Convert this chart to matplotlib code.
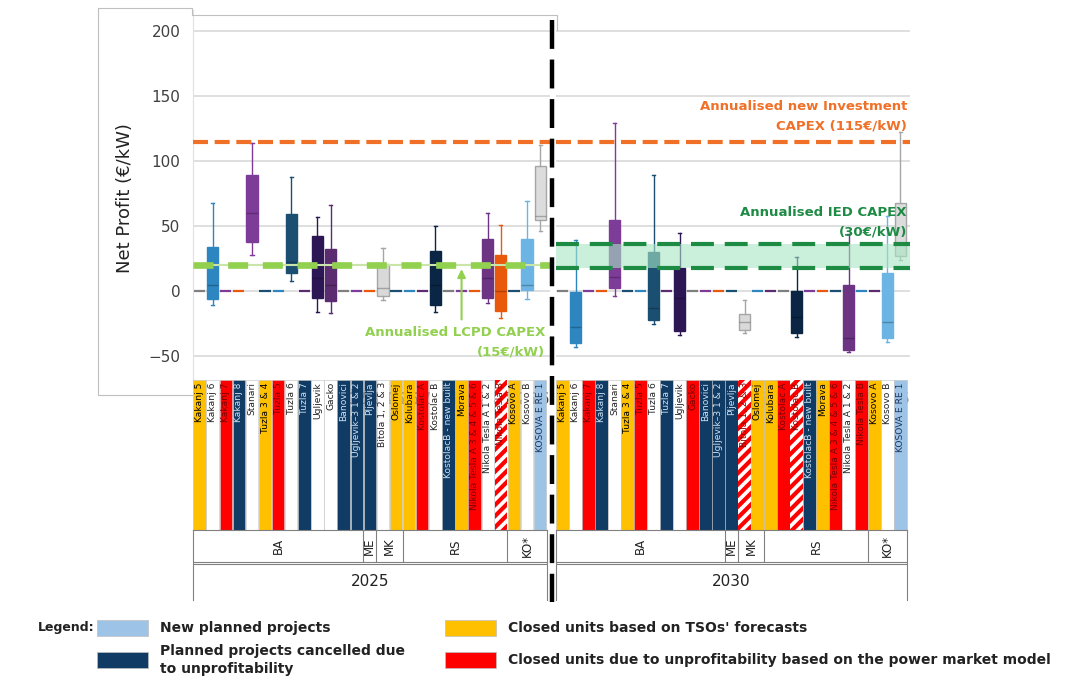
import numpy as np
import matplotlib.pyplot as plt
from matplotlib.patches import Rectangle

plt.rcParams['hatch.linewidth'] = 3.0

# ---- data -------------------------------------------------------------
plants = ['Kakanj 5', 'Kakanj 6', 'Kakanj 7', 'Kakanj 8', 'Stanari', 'Tuzla 3 & 4',
          'Tuzla 5', 'Tuzla 6', 'Tuzla 7', 'Ugljevik', 'Gacko', 'Banovici',
          'Ugljevik\u20133 1 & 2', 'Pljevlja', 'Bitola 1, 2 & 3', 'Oslomej', 'Kolubara',
          'Kostolac A', 'Kostolac B', 'KostolacB - new built', 'Morava',
          'Nikola Tesla A 3 & 4 & 5 & 6', 'Nikola Tesla A 1 & 2', 'Nikola Tesla B',
          'Kosovo A', 'Kosovo B', 'KOSOVA E RE 1']

status_2025 = ['tso', 'none', 'model', 'cancel', 'none', 'tso', 'model', 'none', 'cancel',
               'none', 'none', 'cancel', 'cancel', 'cancel', 'none', 'tso', 'tso', 'model',
               'none', 'cancel', 'tso', 'model', 'none', 'hatch', 'tso', 'none', 'new']
status_2030 = ['tso', 'none', 'model', 'cancel', 'none', 'tso', 'model', 'none', 'cancel',
               'none', 'model', 'cancel', 'cancel', 'cancel', 'hatch', 'tso', 'tso', 'model',
               'hatch', 'cancel', 'tso', 'model', 'none', 'model', 'tso', 'none', 'new']

countries = ['BA', 'ME', 'MK', 'RS', 'KO*']
country_sizes = [13, 1, 2, 8, 3]
years = ['2025', '2030']

# box plots (net profit, EUR/kW)
pos_2025 = [1, 4, 7, 9, 10, 14, 18, 22, 23, 25, 26]
hi_2025 = [68, 114, 88, 57, 66, 33, 50, 60, 51, 69, 112]
q3_2025 = [34, 89, 59, 42, 32, 21, 31, 40, 28, 40, 96]
med_2025 = [5, 60, 22, 10, 5, 2, 5, 10, 0, 5, 58]
q1_2025 = [-6, 38, 14, -5, -8, -4, -11, -5, -15, 1, 55]
lo_2025 = [-11, 28, 8, -16, -17, -7, -16, -9, -21, -6, 46]
col_2025 = ['#2E86C1', '#7D3C98', '#1B4F72', '#2C1654', '#5B2C6F', '#D9D9D9',
            '#0B2545', '#6C3483', '#E8590C', '#6CB4E4', '#DCDCDC']

pos_2030 = [1, 4, 7, 9, 14, 18, 22, 25, 26]
hi_2030 = [39, 129, 89, 45, -7, 26, 44, 58, 122]
q3_2030 = [-1, 55, 30, 18, -18, 0, 5, 14, 68]
med_2030 = [-28, 11, -13, -5, -24, -20, -36, -24, 37]
q1_2030 = [-40, 2, -22, -31, -30, -32, -45, -36, 27]
lo_2030 = [-43, -4, -25, -34, -32, -35, -47, -39, 24]
col_2030 = ['#2E86C1', '#7D3C98', '#1B4F72', '#2C1654', '#D9D9D9', '#0B2545',
            '#6C3483', '#6CB4E4', '#DCDCDC']

new_capex = 115
lcpd_capex = 20
ied_band = (18, 36)

# ---- styles -------------------------------------------------------------
W, H = 1075, 682
fill = {'tso': '#FFC000', 'model': '#FF0000', 'cancel': '#0F3B64', 'new': '#9DC3E6',
        'none': '#FFFFFF', 'hatch': '#FFFFFF'}
tcol = {'tso': '#000000', 'model': '#7A0000', 'cancel': '#CFE2F3', 'new': '#1F3864',
        'none': '#222222', 'hatch': '#8B0000'}
zero_cols = ['#7F7F7F', '#7D3C98', '#E8590C', '#1B4F72', '#2E86C1', '#5B2C6F']
ORANGE = '#F07028'
LGREEN = '#92D050'
DGREEN = '#1E8B45'


def box(x0, y0, x1, y1):
    return [x0 / W, 1 - y1 / H, (x1 - x0) / W, (y1 - y0) / H]


fig = plt.figure(figsize=(W / 100, H / 100), dpi=100)

# overlay for frame, divider, legend and annotations (pixel coordinates)
ov = fig.add_axes([0, 0, 1, 1], zorder=10)
ov.set_xlim(0, W)
ov.set_ylim(H, 0)
ov.axis('off')

ylim = ((291 - 380) / 1.3, (291 - 10) / 1.3)


def boxes(ax, pos, lo, q1, med, q3, hi, cols):
    stats = []
    for i in range(len(pos)):
        stats.append(dict(whislo=lo[i], q1=q1[i], med=med[i], q3=q3[i], whishi=hi[i]))
    art = ax.bxp(stats, positions=pos, widths=0.85, patch_artist=True, showfliers=False,
                 capwidths=0.25, medianprops=dict(color='black', alpha=0.25, lw=1))
    for i, c in enumerate(cols):
        edge = '#A6A6A6' if c in ('#D9D9D9', '#DCDCDC') else c
        art['boxes'][i].set_facecolor(c)
        art['boxes'][i].set_edgecolor(edge)
        for ln in art['whiskers'][2 * i:2 * i + 2] + art['caps'][2 * i:2 * i + 2]:
            ln.set_color(edge)
            ln.set_linewidth(1)
    # units with zero profit (flat boxes on the zero line)
    zpos = [p for p in range(27) if p not in pos]
    zstats = [dict(whislo=0, q1=0, med=0, q3=0, whishi=0) for p in zpos]
    zart = ax.bxp(zstats, positions=zpos, widths=0.85, patch_artist=True, showfliers=False,
                  showcaps=False, medianprops=dict(lw=0))
    for i, b in enumerate(zart['boxes']):
        b.set_edgecolor(zero_cols[i % len(zero_cols)])
        b.set_linewidth(1.6)


def panel(ax, x0, x1, ncols_px):
    ax.set_xlim(-0.5, -0.5 + (x1 - x0) / ncols_px)
    ax.set_ylim(*ylim)
    ax.set_yticks([-50, 0, 50, 100, 150, 200])
    ax.grid(axis='y', color='#D9D9D9', lw=1.2, zorder=0)
    ax.set_axisbelow(True)
    ax.set_xticks([])
    for s in ax.spines.values():
        s.set_visible(False)
    ax.tick_params(length=0, labelsize=11, labelcolor='#404040', pad=9)


ax25 = fig.add_axes(box(193, 10, 550, 380))
panel(ax25, 193, 550, 13.1)
ax25.spines['left'].set_visible(True)
ax25.spines['left'].set_color('#E0E0E0')
ax30 = fig.add_axes(box(556, 10, 910, 380))
panel(ax30, 556, 910, 13.0)
ax30.set_yticklabels([])

boxes(ax25, pos_2025, lo_2025, q1_2025, med_2025, q3_2025, hi_2025, col_2025)
boxes(ax30, pos_2030, lo_2030, q1_2030, med_2030, q3_2030, hi_2030, col_2030)

# reference lines, drawn over the boxes
ax25.axhline(lcpd_capex, color='#C9E6A8', lw=1.5, zorder=5)
ax25.axhline(lcpd_capex, color=LGREEN, lw=4.8, dashes=(3.0, 2.2), zorder=5)
ax30.axhspan(ied_band[0], ied_band[1], color='#A8E6C4', alpha=0.6, lw=0, zorder=5)
ax30.axhline(ied_band[1], color=DGREEN, lw=3, dashes=(5.5, 2.6), zorder=5)
ax30.axhline(ied_band[0], color=DGREEN, lw=3, dashes=(5.5, 2.6), zorder=5)
for ax in (ax25, ax30):
    ax.axhline(new_capex, color=ORANGE, lw=3, dashes=(3.6, 1.6), zorder=5)
    ax.set_ylim(*ylim)
ax25.set_xlim(-0.5, -0.5 + 357 / 13.1)
ax30.set_xlim(-0.5, -0.5 + 354 / 13.0)

ax25.annotate('', xy=(20.0, lcpd_capex - 1), xytext=(20.0, -24),
              arrowprops=dict(arrowstyle='-|>', color=LGREEN, lw=1.5, mutation_scale=12))

# plant label strips
for yr, st, x0, x1, cw in ((0, status_2025, 193, 550, 13.1), (1, status_2030, 556, 910, 13.0)):
    lab = fig.add_axes(box(x0, 380, x1, 530))
    lab.set_xlim(-0.5, -0.5 + (x1 - x0) / cw)
    lab.set_ylim(0, 1)
    lab.axis('off')
    for i, s in enumerate(st):
        if s == 'hatch':
            lab.bar(i, 1, width=0.94, color='white', edgecolor='#FF0000', hatch='///', lw=0)
        else:
            lab.bar(i, 1, width=0.94, color=fill[s], edgecolor='#BFBFBF', lw=0.4)
        lab.text(i, 0.985, plants[i], rotation=90, ha='center', va='top', fontsize=6.6,
                 color=tcol[s])

    grp = fig.add_axes(box(x0, 530, x0 + 27 * cw, 600))
    grp.set_xlim(-0.5, 26.5)
    grp.set_ylim(0, 70)
    grp.set_xticks([])
    grp.set_yticks([])
    for s in grp.spines.values():
        s.set_color('#808080')
        s.set_linewidth(0.8)
    grp.spines['bottom'].set_visible(False)
    grp.axhline(38, color='#808080', lw=0.8)
    grp.axhline(36.5, color='#808080', lw=0.8)
    start = -0.5
    for c, n in zip(countries, country_sizes):
        grp.text(start + n / 2, 54, c, rotation=90, ha='center', va='center',
                 fontsize=8.5, color='#222222')
        start += n
        if start < 26:
            grp.plot([start, start], [38, 70], color='#808080', lw=0.8)
    grp.text(13, 19, years[yr], ha='center', va='center', fontsize=11, color='#222222')

# chart frame and divider
ov.plot([192, 98, 98, 192, 192, 557, 557], [395, 395, 8, 8, 15, 15, 30],
        color='#BFBFBF', lw=0.8)
ov.plot([552, 552], [20, 602], color='black', lw=3.2, dashes=(6.5, 2.4))

# annotations
ov.text(545, 333, 'Annualised LCPD CAPEX', ha='right', va='center', fontsize=9.5,
        fontweight='bold', color=LGREEN)
ov.text(545, 352, '(15\u20ac/kW)', ha='right', va='center', fontsize=9.5,
        fontweight='bold', color=LGREEN)
ov.text(907, 106, 'Annualised new Investment', ha='right', va='center', fontsize=9.5,
        fontweight='bold', color=ORANGE)
ov.text(907, 126, 'CAPEX (115\u20ac/kW)', ha='right', va='center', fontsize=9.5,
        fontweight='bold', color=ORANGE)
ov.text(907, 213, 'Annualised IED CAPEX', ha='right', va='center', fontsize=9.5,
        fontweight='bold', color=DGREEN)
ov.text(907, 232, '(30\u20ac/kW)', ha='right', va='center', fontsize=9.5,
        fontweight='bold', color=DGREEN)
ov.text(125, 198, 'Net Profit (\u20ac/kW)', rotation=90, ha='center', va='center',
        fontsize=13, color='#222222')

# legend
ov.text(38, 628, 'Legend:', ha='left', va='center', fontsize=9, fontweight='bold',
        color='#222222')
legend_items = [(97, 628, '#9DC3E6', 'New planned projects'),
                (97, 660, '#0F3B64', 'Planned projects cancelled due\nto unprofitability'),
                (445, 628, '#FFC000', "Closed units based on TSOs' forecasts"),
                (445, 660, '#FF0000',
                 'Closed units due to unprofitability based on the power market model')]
for x, y, c, t in legend_items:
    ov.add_patch(Rectangle((x, y - 8), 51, 16, facecolor=c, edgecolor='#BFBFBF', lw=0.5))
    ov.text(x + 63, y, t, ha='left', va='center', fontsize=10, fontweight='bold',
            color='#222222', linespacing=1.3)

fig.savefig('out.png', dpi=100)
